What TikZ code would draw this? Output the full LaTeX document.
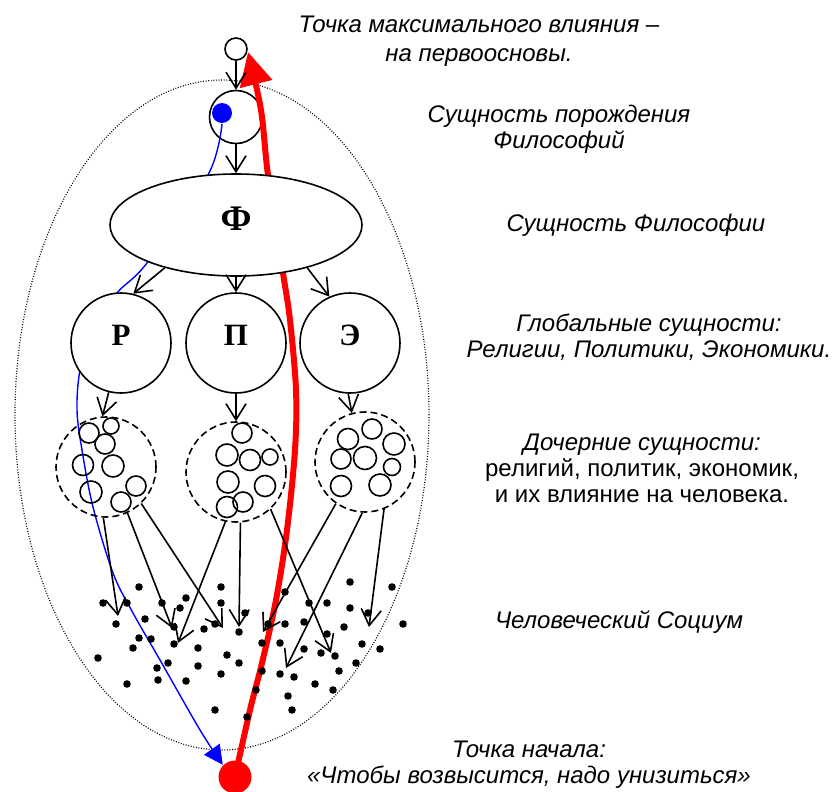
\documentclass[tikz,border=0pt]{standalone}
\usepackage{fontspec}
\setmainfont{Liberation Sans}
\newfontfamily\lserif{Liberation Serif}
\usetikzlibrary{arrows.meta,shapes.geometric}
\begin{document}
\begin{tikzpicture}[x=1pt,y=-1pt,line width=1.6pt,
  arr/.style={-{Straight Barb[length=16pt,width=20pt]}},
  bigc/.style={circle,draw,fill=white,minimum size=100,inner sep=0pt,
    font=\lserif\bfseries\fontsize{31}{31}\selectfont,text depth=16pt},
  grp/.style={circle,draw,dash pattern=on 7pt off 4pt,minimum size=100,inner sep=0pt},
  sm/.style={circle,draw,inner sep=0pt,minimum size=#1},
  txt/.style={font=\fontsize{24}{26}\selectfont\itshape,align=center,anchor=north,inner sep=0pt},
  societydot/.style={fill=black}
]
\useasboundingbox (0,0) rectangle (833,792);

% outer dotted ellipse
\node[ellipse,draw,line width=1.2pt,dash pattern=on 0.9pt off 1.7pt,
      minimum width=414,minimum height=670,inner sep=0pt] (soc) at (222,415) {};

% top nodes
\node[sm=22,fill=white] (T) at (236,49) {};
\node[sm=53] (S) at (236,117) {};
\node[circle,fill=blue,minimum size=20,inner sep=0pt] (B) at (222,113) {};
\node[circle,fill=red,minimum size=33,inner sep=0pt] (RD) at (235,777) {};

% blue curve
\draw[blue,line width=1.4pt,-{Triangle[length=19pt,width=19pt]}]
  plot[smooth,tension=0.55] coordinates {(B.south) (208,175) (147,263) (117,293) (92,330) (80,370) (77,410) (82,450) (93,507) (113,573) (133,613) (160,660) (200,730) (RD.135)};

% red curve
\draw[red,line width=6pt,-{Triangle[length=33pt,width=32pt]}]
  plot[smooth,tension=0.55] coordinates {(RD.center) (250,710) (262,663) (276,600) (287,530) (295,450) (296,390) (290,320) (283,273) (268,175) (261,110) (248,52)};

% main nodes
\node[ellipse,draw,fill=white,minimum width=252,minimum height=102,inner sep=0pt,
      font=\lserif\bfseries\fontsize{36}{36}\selectfont,text depth=13pt] (F) at (236,225) {Ф};
\node[bigc] (R) at (121,343) {Р};
\node[bigc] (P) at (236,343) {П};
\node[bigc] (E) at (350,343) {Э};

% groups
\node[grp] (gL) at (106,467) {};
\node[grp] (gM) at (236,472) {};
\node[grp] (gR) at (365,462) {};

\foreach \n/\x/\y/\d in {l1/89/433/20,l2/111/426/16,l3/105/444/20,l4/83/465/21,l5/113/466/22,
  l6/91/492/22,l7/136/486/20,l8/121/502/20,
  m1/242/433/20,m2/227/455/22,m3/250/460/21,m4/270/457/16,m5/228/482/22,m6/265/486/21,
  m7/243/502/20,m8/227/507/21,
  r1/372/429/20,r2/348/439/21,r3/394/444/22,r4/341/459/20,r5/365/458/23,r6/392/467/17,
  r7/341/486/21,r8/380/485/22}
  \node[sm=\d] (\n) at (\x,\y) {};

% arrows
\draw[arr] (T) -- (S);
\draw[arr] (S) -- (F);
\draw[arr] (F.-149.5) -- (R.76);
\draw[arr] (F) -- (P);
\draw[arr] (F.-31) -- (E.114);
\draw[arr] (R.-104) -- (gL.94);
\draw[arr] (P) -- (gM);
\draw[arr] (E.-92) -- (gR.105);

\coordinate (a1) at (118,616);
\coordinate (a2) at (172,628);
\coordinate (a3) at (223,628);
\coordinate (b1) at (178,643);
\coordinate (b2) at (239,627);
\coordinate (b3) at (331,653);
\coordinate (c1) at (263,632);
\coordinate (c2) at (286,668);
\coordinate (c3) at (369,627);
\draw[arr] (gL.-93) -- (a1);
\draw[arr] (gL.-65) -- (a2);
\draw[arr] (gL.-46) -- (a3);
\draw[arr] (gM.-102) -- (b1);
\draw[arr] (gM.-85) -- (b2);
\draw[arr] (gM.-47) -- (b3);
\draw[arr] (gR.-125) -- (c1);
\draw[arr] (gR.-93) -- (c2);
\draw[arr] (gR.-68) -- (c3);

% society dots
\foreach \x/\y in {139/587,221/587,350/582,392/587,103/603,127/603,162/603,186/598,221/603,
  285/592,309/603,327/603,350/608,180/608,245/613,368/613,116/624,145/619,174/627,204/629,
  215/624,239/632,268/624,285/624,304/622,344/627,403/624,139/638,151/639,174/644,198/648,
  133/648,262/643,280/643,327/634,362/644,380/649,304/649,321/653,335/656,98/658,227/655,
  157/668,168/663,198/666,239/663,221/674,262/671,280/674,294/677,339/671,356/663,127/684,
  158/680,186/681,315/684,333/690,256/690,288/696,215/710,247/717,292/710}
  \fill[societydot] (\x,\y) circle (3.8);

% texts
\node[txt,font=\fontsize{24}{29}\selectfont\itshape] (t1) at (479,15) {Точка максимального влияния –\\на первоосновы.};
\node[txt] (t2) at (559,104) {Сущность порождения\\Философий};
\node[txt] (t3) at (636,213) {Сущность Философии};
\node[txt] (t4) at (649,313) {Глобальные сущности:\\Религии, Политики, Экономики.};
\node[txt] (t5) at (642,433) {\textit{Дочерние сущности:}\\\textup{религий, политик, экономик,}\\\textup{и их влияние на человека.}};
\node[txt] (t6) at (619,610) {Человеческий Социум};
\node[txt] (t7) at (529,740) {Точка начала:\\«Чтобы возвысится, надо унизиться»};
\end{tikzpicture}
\end{document}
